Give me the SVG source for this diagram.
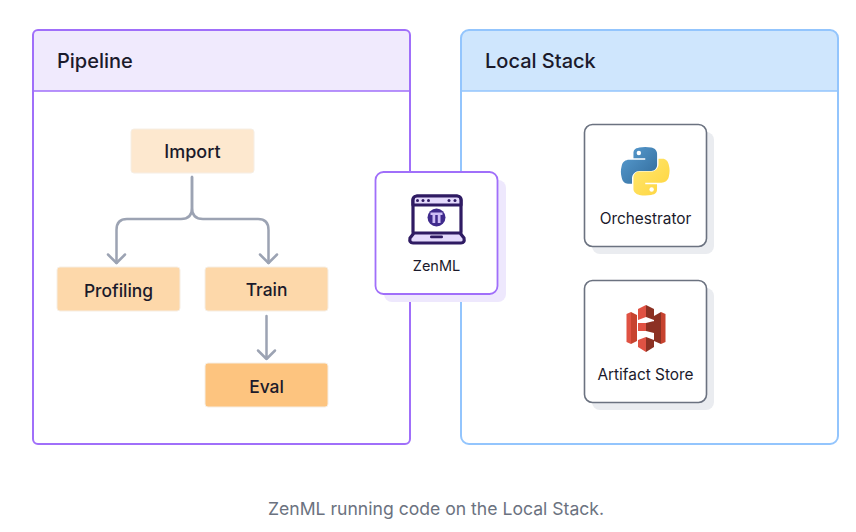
<svg xmlns="http://www.w3.org/2000/svg" width="856" height="532" viewBox="0 0 856 532">
<style>
text{font-family:Inter,"Liberation Sans",sans-serif;text-anchor:middle;fill:#1b1a2b}
.h{font-size:20px;font-weight:500;text-anchor:start}
.s{font-size:17.400px;font-weight:500}
.l{font-size:15.400px}
.task{stroke:#f6eee4;stroke-width:1}
.c{fill:none;stroke:#9ca3b3;stroke-width:2.5;stroke-linecap:round;stroke-linejoin:round}
.card{fill:#fff;stroke:#6b7280;stroke-width:1.6}
.sh{fill:#eaecf0}
.r{fill:#e05243}
.d{fill:#8c3123}
.m{fill:#c7432f}
.ic{stroke:#2f1b63;stroke-width:3.2;stroke-linejoin:round}
</style>
<defs>
<linearGradient id="pb" x1="0" y1="0" x2="1" y2="1"><stop offset="0" stop-color="#5a9fd4"/><stop offset="1" stop-color="#306998"/></linearGradient>
<linearGradient id="py" x1="0" y1="0" x2="1" y2="1"><stop offset="0" stop-color="#ffd43b"/><stop offset="1" stop-color="#ffe873"/></linearGradient>
<path id="snake" d="M54.900.9c-4.600 0-9 .4-12.800 1.100C30.800 4 28.800 8.200 28.800 15.900v10.200h26.200v3.400H19C11.400 29.500 4.700 34 2.700 42.700c-2.400 10-2.500 16.200 0 26.600 1.900 7.800 6.300 13.300 13.900 13.300h9V70.600c0-8.700 7.500-16.300 16.400-16.300h26.200c7.300 0 13.100-6 13.100-13.300V15.900c0-7.100-6-12.400-13.100-13.600C63.500 1.500 59.500.9 54.900.9Z"/>
</defs>
<rect width="856" height="532" fill="#fff"/>
<g id="pipeline">
<path d="M33 91V35a5 5 0 0 1 5-5H405a5 5 0 0 1 5 5V91Z" fill="#f0eafd"/>
<rect x="33" y="30" width="377" height="414" rx="5" fill="none" stroke="#a06ffa" stroke-width="2"/>
<path d="M33 91H410" stroke="#a06ffa" stroke-width="1.6"/>
<text class="h" x="57" y="68">Pipeline</text>
</g>
<g id="local-stack">
<path d="M461 91V38a8 8 0 0 1 8-8H830a8 8 0 0 1 8 8V91Z" fill="#cfe6fd"/>
<rect x="461" y="30" width="377" height="414" rx="8" fill="none" stroke="#93c5fd" stroke-width="2"/>
<path d="M461 91H838" stroke="#93c5fd" stroke-width="1.6"/>
<text class="h" x="485" y="68">Local Stack</text>
</g>
<g id="connectors">
<path class="c" d="M192 177V208Q192 219 181 219H127Q116.500 219 116.500 230V263"/>
<path class="c" d="M192 177V208Q192 219 203 219H258Q268.500 219 268.500 230V263"/>
<path class="c" d="M108 254.500L116.500 263L125 254.500"/>
<path class="c" d="M260 254.500L268.500 263L277 254.500"/>
<path class="c" d="M266.500 316V359M258 350.500L266.500 359L275 350.500"/>
</g>
<g id="import"><rect class="task" x="131" y="129" width="123" height="44" rx="3" fill="#fde8cf"/><text class="s" x="192.500" y="157.500" style="font-size:18px">Import</text></g>
<g id="profiling"><rect class="task" x="57" y="267" width="123" height="44" rx="3" fill="#fdd8aa"/><text class="s" x="118.500" y="296.500">Profiling</text></g>
<g id="train"><rect class="task" x="205" y="267" width="123" height="44" rx="3" fill="#fdd8aa"/><text class="s" x="266.500" y="296">Train</text></g>
<g id="eval"><rect class="task" x="205" y="363" width="123" height="44" rx="3" fill="#fdc47f"/><text class="s" x="266.500" y="392.500">Eval</text></g>
<g id="zenml">
<rect x="384" y="180" width="122" height="122" rx="8" fill="#eee8fd"/>
<rect x="375.500" y="172" width="122" height="122" rx="8" fill="#fff" stroke="#a06ffa" stroke-width="1.800"/>
<rect class="ic" x="413" y="196" width="48" height="40" rx="4" fill="#fff"/>
<path class="ic" d="M413 205V200a4 4 0 0 1 4-4H457a4 4 0 0 1 4 4V205Z" fill="#e4dafc"/>
<g fill="#2f1b63"><circle cx="417.500" cy="200.500" r="1.500"/><circle cx="423" cy="200.500" r="1.500"/><circle cx="428.500" cy="200.500" r="1.500"/><circle cx="449" cy="200.500" r="1.500"/><circle cx="455" cy="200.500" r="1.500"/></g>
<path class="ic" d="M414 233H460L464 238Q465 243 461 243H413Q409 243 410 238Z" fill="#e4dafc"/>
<rect x="430" y="235.500" width="13" height="2.800" rx="1.300" fill="#2f1b63"/>
<circle cx="436.500" cy="217.500" r="9" fill="#3f2a8c"/>
<path d="M430.500 212.500H442.500V215H440.500V223H432.500V215H430.500Z" fill="#cdbdf5"/>
<path d="M436.500 215V223" stroke="#3f2a8c" stroke-width="2.500"/>
<text x="436.500" y="271" style="font-size:14.500px">ZenML</text>
</g>
<g id="orchestrator">
<rect class="sh" x="592" y="132" width="122" height="122" rx="8"/>
<rect class="card" x="584.500" y="124.500" width="122" height="122" rx="8"/>
<g transform="translate(620.500 146.500) scale(.45)">
<use href="#snake" fill="url(#pb)"/>
<circle cx="40.800" cy="14.500" r="4.900" fill="#fff"/>
<g transform="rotate(180 55 55)"><use href="#snake" fill="url(#py)"/><circle cx="40.800" cy="14.500" r="4.900" fill="#fff"/></g>
</g>
<text class="l" x="645.500" y="224">Orchestrator</text>
</g>
<g id="artifact-store">
<rect class="sh" x="592" y="288" width="122" height="122" rx="8"/>
<rect class="card" x="584.500" y="280.500" width="122" height="122" rx="8"/>
<path class="r" d="M638 309L646 305V317L638 320ZM638 340L646 337V352L638 347ZM638 323H646V331H638ZM626.500 314L631 312V344L626.500 342Z"/>
<path class="m" d="M631 312L637 315V341L631 344ZM661 312L665.500 314V342L661 344Z"/>
<path class="d" d="M646 305L654 309V320L646 317ZM646 337L654 340V347L646 352ZM646 323L654 321V333L646 331ZM654 316L661 312V344L654 341Z"/>
<text class="l" x="645.500" y="380">Artifact Store</text>
</g>
<text x="436" y="514.500" style="font-size:17.600px;fill:#6b7280">ZenML running code on the Local Stack.</text>
</svg>
